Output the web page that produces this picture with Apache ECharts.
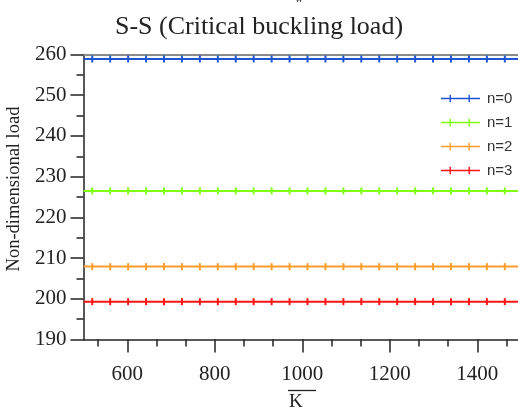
<!DOCTYPE html>
<html>
<head>
<meta charset="utf-8">
<script src="https://cdn.jsdelivr.net/npm/echarts@6/dist/echarts.min.js"></script>
<style>
html,body{margin:0;padding:0;background:#fff}
#chart{width:518px;height:407px}
</style>
</head>
<body>
<div id="chart"></div>
<script>
// K values of the data points (first point starts the line at the axis)
var kValues = [500, 520, 561, 602, 643, 684, 725, 766, 807, 848, 889, 930, 971, 1012, 1053, 1094, 1135, 1176, 1217, 1258, 1299, 1340, 1381, 1422, 1463, 1504];
var n0 = [258.9, 258.9, 258.9, 258.9, 258.9, 258.9, 258.9, 258.9, 258.9, 258.9, 258.9, 258.9, 258.9, 258.9, 258.9, 258.9, 258.9, 258.9, 258.9, 258.9, 258.9, 258.9, 258.9, 258.9, 258.9, 258.9];
var n1 = [226.5, 226.5, 226.5, 226.5, 226.5, 226.5, 226.5, 226.5, 226.5, 226.5, 226.5, 226.5, 226.5, 226.5, 226.5, 226.5, 226.5, 226.5, 226.5, 226.5, 226.5, 226.5, 226.5, 226.5, 226.5, 226.5];
var n2 = [207.9, 207.9, 207.9, 207.9, 207.9, 207.9, 207.9, 207.9, 207.9, 207.9, 207.9, 207.9, 207.9, 207.9, 207.9, 207.9, 207.9, 207.9, 207.9, 207.9, 207.9, 207.9, 207.9, 207.9, 207.9, 207.9];
var n3 = [199.3, 199.3, 199.3, 199.3, 199.3, 199.3, 199.3, 199.3, 199.3, 199.3, 199.3, 199.3, 199.3, 199.3, 199.3, 199.3, 199.3, 199.3, 199.3, 199.3, 199.3, 199.3, 199.3, 199.3, 199.3, 199.3];
var seriesNames = ['n=0', 'n=1', 'n=2', 'n=3'];
var colors = ['#1f55d2', '#80ff10', '#ff9d2a', '#ff1414'];
var xMajor = [600, 800, 1000, 1200, 1400];
var xMinor = [533, 667, 733, 867, 933, 1067, 1133, 1267, 1333, 1467];

var chart = echarts.init(document.getElementById('chart'));

function pts(vals){
	var out = [];
	for (var i = 0; i < kValues.length; i++) {
		if (i == 0) out.push({value: [kValues[i], vals[i]], symbol: 'none'});
		else out.push([kValues[i], vals[i]]);
	}
	return out;
}

var serif = 'Liberation Serif';
var legendIcon = 'path://M0,3h39v1.6h-39z M8.5,0h1.4v7.6h-1.4z M27.5,0h1.4v7.6h-1.4z';

var seriesData = [n0, n1, n2, n3];
var series = [];
for (var s = 0; s < 4; s++) {
	series.push({
		name: seriesNames[s],
		type: 'line',
		data: pts(seriesData[s]),
		symbol: 'rect',
		symbolSize: [2, 7],
		showAllSymbol: true,
		lineStyle: {width: 2, color: colors[s]},
		itemStyle: {color: colors[s]},
		animation: false
	});
}

var option = {
	color: colors,
	title: {
		text: 'S-S (Critical buckling load)',
		left: 'center',
		top: 9,
		textStyle: {fontFamily: serif, fontSize: 26, fontWeight: 'normal', color: '#222'}
	},
	legend: {
		orient: 'vertical',
		left: 436,
		top: 86,
		itemWidth: 39,
		itemHeight: 8,
		itemGap: 9,
		icon: legendIcon,
		data: seriesNames,
		textStyle: {fontFamily: 'Liberation Sans', fontSize: 15, color: '#333', padding: [0, 0, 0, 2]}
	},
	grid: {left: 83.5, right: -3, top: 54.5, bottom: 67.5, containLabel: false, outerBoundsMode: 'none'},
	xAxis: [
		{
			type: 'value',
			min: 500,
			max: 1500,
			position: 'bottom',
			splitLine: {show: false},
			axisLine: {lineStyle: {color: '#222', width: 1.5}},
			axisTick: {length: 13, customValues: xMajor, lineStyle: {color: '#222', width: 1.5}},
			axisLabel: {customValues: xMajor, margin: 24, fontFamily: serif, fontSize: 21, color: '#222',
				formatter: function (v) { return String(v); }}
		},
		{
			type: 'value',
			min: 500,
			max: 1500,
			position: 'bottom',
			splitLine: {show: false},
			axisLine: {show: false},
			axisTick: {length: 7, customValues: xMinor, lineStyle: {color: '#222', width: 1.5}},
			axisLabel: {show: false}
		},
		{
			type: 'value',
			min: 500,
			max: 1500,
			position: 'top',
			splitLine: {show: false},
			axisLine: {lineStyle: {color: '#8a8a8a', width: 2}},
			axisTick: {show: false},
			axisLabel: {show: false}
		}
	],
	yAxis: {
		type: 'value',
		min: 190,
		max: 260,
		interval: 10,
		name: 'Non-dimensional load',
		nameLocation: 'middle',
		nameGap: 60,
		nameTextStyle: {fontFamily: serif, fontSize: 18.5, color: '#222', padding: [0, 0, 0, 16]},
		splitLine: {show: false},
		axisLine: {show: true, lineStyle: {color: '#222', width: 1.5}},
		axisTick: {show: true, length: 13, lineStyle: {color: '#222', width: 1.5}},
		minorTick: {show: true, splitNumber: 2, length: 7, lineStyle: {color: '#222', width: 1.5}},
		axisLabel: {margin: 17, fontFamily: serif, fontSize: 21, color: '#222'}
	},
	graphic: [
		{
			// cut-off axis title of the panel above
			type: 'text',
			left: 283,
			top: -13,
			style: {text: 'L', fontFamily: serif, fontSize: 17, fill: '#222'}
		},
		{
			type: 'text',
			left: 295,
			top: -6,
			style: {text: 'w', fontFamily: serif, fontSize: 11, fill: '#222'}
		},
		{
			// x-axis name: K with an overline, cut off at the bottom
			type: 'text',
			left: 289,
			top: 393,
			style: {text: 'K', fontFamily: serif, fontSize: 19, fill: '#222'}
		},
		{
			type: 'line',
			shape: {x1: 288, y1: 390.5, x2: 316, y2: 390.5},
			style: {stroke: '#222', lineWidth: 1.3}
		}
	],
	series: series
};

chart.setOption(option);
</script>
</body>
</html>
